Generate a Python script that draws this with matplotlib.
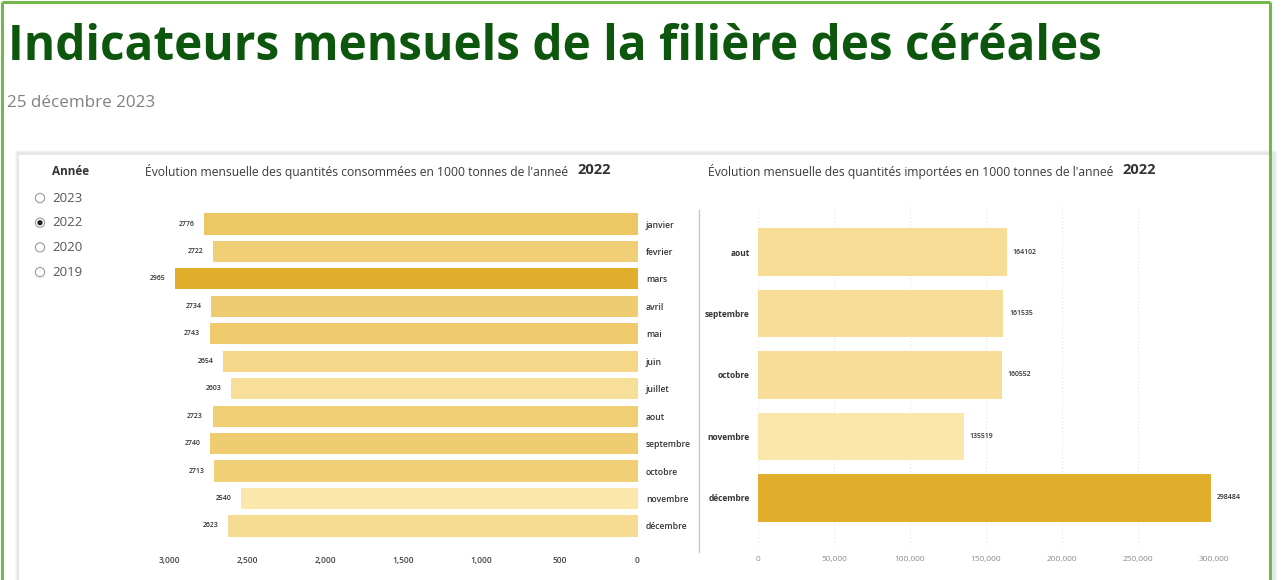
import matplotlib
matplotlib.use("Agg")
import matplotlib.pyplot as plt
import numpy as np
from matplotlib.patches import Rectangle, Circle
from matplotlib.colors import to_rgb

# ---------------- data ----------------
conso_months = ["janvier", "fevrier", "mars", "avril", "mai", "juin", "juillet",
                "aout", "septembre", "octobre", "novembre", "décembre"]
conso_values = [2776, 2722, 2965, 2734, 2743, 2654, 2603, 2723, 2740, 2713, 2540, 2623]

import_months = ["aout", "septembre", "octobre", "novembre", "décembre"]
import_values = [164102, 161535, 160552, 135519, 298484]

conso_ticks = [3000, 2500, 2000, 1500, 1000, 500, 0]
import_ticks = [0, 50000, 100000, 150000, 200000, 250000, 300000]

years = ["2023", "2022", "2020", "2019"]
selected_year = "2022"

title = "Indicateurs mensuels de la filière des céréales"
subtitle = "25 décembre 2023"
conso_title = "Évolution mensuelle des quantités consommées en 1000 tonnes de l'anneé"
import_title = "Évolution mensuelle des quantités importées en 1000 tonnes de l'anneé"

# ---------------- figure ----------------
W, H = 1284, 580
fig = plt.figure(figsize=(W / 100, H / 100), dpi=100)
fig.patch.set_facecolor("white")
FONT = ["Open Sans", "DejaVu Sans"]
plt.rcParams["font.family"] = FONT


def fx(px):
    return px / W


def fy(py):
    return 1 - py / H


def px_axes(left, top, right, bottom):
    return [fx(left), fy(bottom), fx(right) - fx(left), (bottom - top) / H]


# background overlay axes for frame / card
bg = fig.add_axes([0, 0, 1, 1])
bg.set_xlim(0, W)
bg.set_ylim(H, 0)
bg.axis("off")
bg.set_zorder(-5)

# card shadow + card
for i, a in enumerate([0.05, 0.07, 0.09]):
    bg.add_patch(Rectangle((15 + i, 150 + i), 1260, 440, facecolor=(0.55, 0.55, 0.6, a),
                           edgecolor="none"))
bg.add_patch(Rectangle((19, 155), 1251, 440, facecolor="white", edgecolor="none"))

# green frame (left, top, right)
green = "#72b84a"
bg.plot([1.5, 1.5], [H, 1.5], color=green, lw=2.2, solid_capstyle="butt")
bg.plot([1.5, 1270], [1.5, 1.5], color=green, lw=2.2, solid_capstyle="butt")
bg.plot([1270, 1270], [1.5, H], color=green, lw=2.2, solid_capstyle="butt")

# separator
bg.plot([699, 699], [210, 552], color="#c8c8c8", lw=1.0)

# title (fit width)
t = fig.text(fx(8), fy(47), title, fontsize=40, fontweight="bold", color="#0d560d",
             va="center", ha="left", family=FONT)
fig.canvas.draw()
r = fig.canvas.get_renderer()
wb = t.get_window_extent(r).width
t.set_fontsize(40 * 1092 / wb)

s = fig.text(fx(7), fy(103), subtitle, fontsize=12, color="#808080",
             va="center", ha="left", family=FONT)
fig.canvas.draw()
wb = s.get_window_extent(r).width
s.set_fontsize(12 * 147 / wb)

# slicer
fig.text(fx(52), fy(172), "Année", fontsize=8.5, fontweight="bold", color="#333333",
         va="center", ha="left")
for i, y in enumerate(years):
    yy = 198 + i * 24.7
    bg.add_patch(Circle((40, yy), 4.6, facecolor="white", edgecolor="#9a9a9a", lw=0.8))
    if y == selected_year:
        bg.add_patch(Circle((40, yy), 2.6, facecolor="#222222", edgecolor="none"))
    fig.text(fx(52), fy(yy), y, fontsize=9.5, color="#555555", va="center", ha="left")

# chart titles
fig.text(fx(145), fy(172), conso_title, fontsize=8.7, color="#3a3a3a", va="center", ha="left")
fig.text(fx(577), fy(170), selected_year, fontsize=10.5, fontweight="bold", color="#333333",
         va="center", ha="left")
fig.text(fx(708), fy(172), import_title, fontsize=8.7, color="#3a3a3a", va="center", ha="left")
fig.text(fx(1122), fy(170), selected_year, fontsize=10.5, fontweight="bold", color="#333333",
         va="center", ha="left")

light = np.array(to_rgb("#fbe6ac"))
dark = np.array(to_rgb("#e1ae2b"))


def shade(vals):
    v = np.array(vals, dtype=float)
    f = (v - v.min()) / (v.max() - v.min())
    return [tuple(light + (dark - light) * k) for k in f]


# ---------------- left chart ----------------
row0, rstep = 224, 27.45
top, bot = 205, 545
axL = fig.add_axes(px_axes(169.5, top, 637.5, bot))
n = len(conso_months)
pos = np.arange(n)
barsL = axL.barh(pos, conso_values, height=0.77, color=shade(conso_values))
axL.set_xlim(3000, 0)
axL.set_ylim((bot - row0) / rstep, (top - row0) / rstep)
for sp in axL.spines.values():
    sp.set_visible(False)
axL.yaxis.tick_right()
axL.set_yticks(pos)
axL.set_yticklabels(conso_months, fontsize=6.2, color="#333333", fontweight="semibold")
axL.tick_params(axis="y", length=0, pad=6)
axL.set_xticks(conso_ticks)
axL.set_xticklabels([f"{v:,}" for v in conso_ticks], fontsize=6, color="#444444",
                    fontweight="semibold")
axL.tick_params(axis="x", length=0, pad=8)
axL.bar_label(barsL, labels=[str(v) for v in conso_values], padding=7, fontsize=5,
              color="#333333", fontweight="semibold")
axL.set_facecolor("none")

# ---------------- right chart ----------------
row0R, rstepR = 252, 61.5
axR = fig.add_axes(px_axes(758, top, 1213.8, bot))
m = len(import_months)
posR = np.arange(m)
barsR = axR.barh(posR, import_values, height=0.77, color=shade(import_values))
axR.set_xlim(0, 300000)
axR.set_ylim((bot - row0R) / rstepR, (top - row0R) / rstepR)
for sp in axR.spines.values():
    sp.set_visible(False)
axR.set_yticks(posR)
axR.set_yticklabels(import_months, fontsize=6, color="#333333", fontweight="bold")
axR.tick_params(axis="y", length=0, pad=6)
axR.set_xticks(import_ticks)
axR.set_xticklabels([f"{v:,}" for v in import_ticks], fontsize=6, color="#8a8a8a")
axR.tick_params(axis="x", length=0, pad=8)
axR.grid(axis="x", color="#e4e4e4", linestyle=(0, (1, 2)), lw=0.8)
axR.set_axisbelow(True)
axR.bar_label(barsR, labels=[str(v) for v in import_values], padding=4, fontsize=5,
              color="#333333", fontweight="semibold")
axR.set_facecolor("none")

fig.savefig("out.png", dpi=100, facecolor="white")
